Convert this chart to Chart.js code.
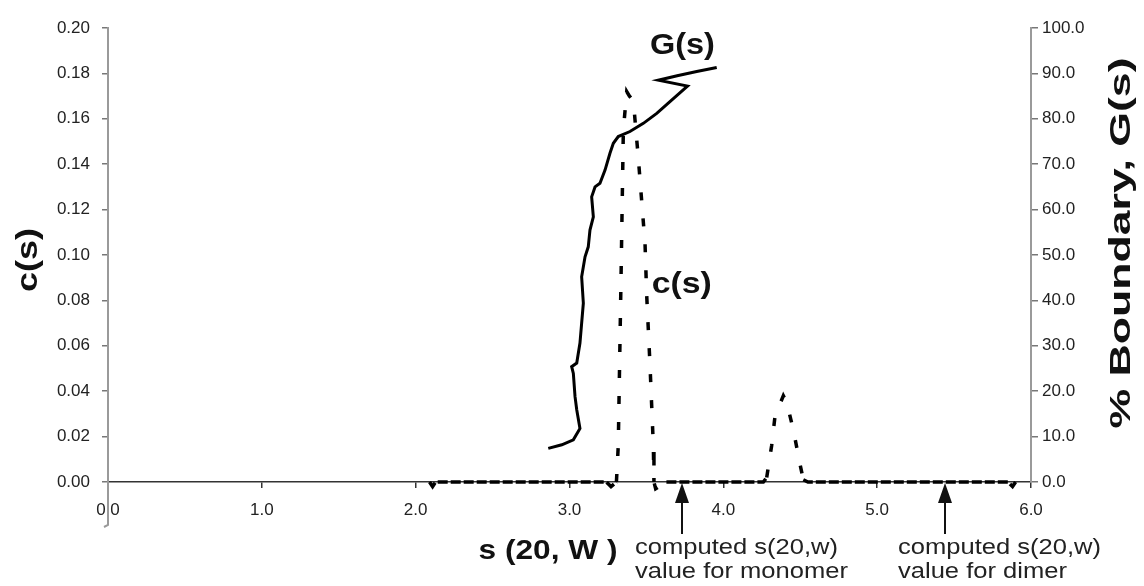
<!DOCTYPE html>
<html>
<head>
<meta charset="utf-8">
<script src="https://cdn.jsdelivr.net/npm/chart.js@4.4.1/dist/chart.umd.min.js"></script>
<style>
  html, body { margin: 0; padding: 0; background: #ffffff; }
  #wrap { width: 1144px; height: 586px; }
</style>
</head>
<body>
<div id="wrap"><canvas id="c" width="1144" height="586"></canvas></div>
<script>
// ---- data ----
// c(s) distribution (left axis)
const cS_s = [2.09, 2.11, 2.13, 3.24, 3.27, 3.305, 3.317, 3.335, 3.35, 3.372, 3.39, 3.415, 3.447, 3.491, 3.502, 3.523, 3.545, 3.549, 3.56, 3.63, 4.26, 4.282, 4.314, 4.336, 4.39, 4.412, 4.455, 4.498, 4.52, 4.55, 5.85, 5.88, 5.90];
const cS_c = [0.0, -0.002, 0.0, 0.0, -0.002, 0.0, 0.016, 0.09, 0.155, 0.172, 0.170, 0.168, 0.143, 0.105, 0.082, 0.052, 0.016, 0.0, -0.003, 0.0, 0.0, 0.002, 0.016, 0.029, 0.038, 0.035, 0.023, 0.008, 0.001, 0.0, 0.0, -0.002, 0.0];

// G(s) integral distribution (right axis, % boundary)
const gS_s = [2.862, 2.95, 3.025, 3.068, 3.047, 3.036, 3.025, 3.014, 3.047, 3.068, 3.079, 3.090, 3.079, 3.101, 3.122, 3.133, 3.155, 3.144, 3.166, 3.198, 3.231, 3.263, 3.285, 3.317, 3.393, 3.480, 3.567, 3.653, 3.767, 3.577, 3.70, 3.827, 3.957];
const gS_G = [7.4, 8.2, 9.3, 11.8, 15.9, 18.8, 23.9, 25.4, 26.2, 30.6, 35.0, 39.4, 45.2, 49.6, 51.8, 55.5, 58.4, 62.8, 65.0, 65.8, 68.7, 72.4, 74.6, 76.1, 77.2, 79.0, 81.2, 83.8, 87.2, 88.5, 89.5, 90.4, 91.3];

// computed s(20,w) markers
const markerS = [3.73, 5.44];
const markerLine1 = ["computed s(20,w)", "computed s(20,w)"];
const markerLine2 = ["value for monomer", "value for dimer"];

// axis ranges / tick steps
const xRange = [0, 6], xStep = 1;
const cRange = [0, 0.2], cStep = 0.02;
const gRange = [0, 100], gStep = 10;

// series labels placed on the plot (anchor in data units)
const seriesLabels = ["G(s)", "c(s)"];
const seriesLabelS = [3.734, 3.73];
const seriesLabelAxis = ["y1", "y"];
const seriesLabelVal = [96, 0.0868];

// axis titles
const xTitle = "s (20, W )";
const yTitle = "c(s)";
const y1Title = "% Boundary, G(s)";

// ---- build chart ----
const cPoints = cS_s.map((s, i) => ({ x: s, y: cS_c[i] }));
const gPoints = gS_s.map((s, i) => ({ x: s, y: gS_G[i] }));

function fitText(ctx, text, x, y, font, targetW, rot, align) {
  ctx.save();
  ctx.font = font;
  const w = ctx.measureText(text).width;
  ctx.translate(x, y);
  if (rot) ctx.rotate(rot);
  ctx.scale(targetW / w, 1);
  ctx.textAlign = align || 'center';
  ctx.textBaseline = 'middle';
  ctx.fillText(text, 0, 0);
  ctx.restore();
}

const decorPlugin = {
  id: 'decor',
  afterDraw(chart) {
    const ctx = chart.ctx;
    const xs = chart.scales.x, ys = chart.scales.y;
    const x0 = xs.getPixelForValue(0);
    const yb = ys.getPixelForValue(0);
    ctx.save();
    // y axis extension below the x axis
    ctx.strokeStyle = '#9a9a9a';
    ctx.lineWidth = 2;
    ctx.beginPath();
    ctx.moveTo(x0, yb);
    ctx.lineTo(x0, yb + 43);
    ctx.lineTo(x0 - 4, yb + 45);
    ctx.stroke();

    ctx.fillStyle = '#111';
    // axis titles
    fitText(ctx, yTitle, 29, 260, 'bold 30px "Liberation Sans", Arial, sans-serif', 64, -Math.PI / 2);
    fitText(ctx, y1Title, 1122, 243, 'bold 30px "Liberation Sans", Arial, sans-serif', 371, -Math.PI / 2);
    fitText(ctx, xTitle, 548, 552, 'bold 27px "Liberation Sans", Arial, sans-serif', 139, 0);

    // series labels
    seriesLabels.forEach((t, i) => {
      const px = xs.getPixelForValue(seriesLabelS[i]);
      const py = chart.scales[seriesLabelAxis[i]].getPixelForValue(seriesLabelVal[i]);
      fitText(ctx, t, px, py, 'bold 30px "Liberation Sans", Arial, sans-serif', i === 0 ? 65 : 60, 0);
    });

    // markers: arrows + text
    markerS.forEach((s, i) => {
      const px = Math.round(xs.getPixelForValue(s));
      ctx.strokeStyle = '#111';
      ctx.lineWidth = 2;
      ctx.beginPath();
      ctx.moveTo(px, yb + 52);
      ctx.lineTo(px, yb + 18);
      ctx.stroke();
      ctx.fillStyle = '#111';
      ctx.beginPath();
      ctx.moveTo(px, yb + 1);
      ctx.lineTo(px - 7, yb + 21);
      ctx.lineTo(px + 7, yb + 21);
      ctx.closePath();
      ctx.fill();

      ctx.fillStyle = '#222';
      const font = '22px "Liberation Sans", Arial, sans-serif';
      ctx.font = font;
      const w1 = ctx.measureText(markerLine1[i]).width;
      const k = 203 / w1;
      const left = px - 47;
      [markerLine1[i], markerLine2[i]].forEach((t, j) => {
        ctx.save();
        ctx.font = font;
        ctx.translate(left, yb + 66 + j * 24);
        ctx.scale(k, 1);
        ctx.textAlign = 'left';
        ctx.textBaseline = 'middle';
        ctx.fillText(t, 0, 0);
        ctx.restore();
      });
    });
    ctx.restore();
  }
};

const tickFont = { family: '"Liberation Sans", Arial, sans-serif', size: 17 };

new Chart(document.getElementById('c'), {
  type: 'scatter',
  data: {
    datasets: [
      {
        label: 'c(s)',
        data: cPoints,
        yAxisID: 'y',
        showLine: true,
        borderColor: '#000',
        borderWidth: 3.5,
        pointRadius: 0,
        clip: false,
        segment: {
          borderDash: (sc) => (Math.abs(sc.p0.parsed.y) < 0.0025 && Math.abs(sc.p1.parsed.y) < 0.0025) ? [10, 3] : [8, 18]
        }
      },
      {
        label: 'G(s)',
        data: gPoints,
        yAxisID: 'y1',
        showLine: true,
        borderColor: '#000',
        borderWidth: 3,
        pointRadius: 0,
        tension: 0
      }
    ]
  },
  options: {
    responsive: false,
    animation: false,
    devicePixelRatio: 1,
    layout: { padding: { top: 28, left: 0, right: 0, bottom: 0 } },
    plugins: { legend: { display: false }, tooltip: { enabled: false } },
    scales: {
      x: {
        type: 'linear',
        min: xRange[0], max: xRange[1],
        afterFit: (s) => { s.height = 104; },
        ticks: { stepSize: xStep, callback: (v) => Number(v).toFixed(1), font: tickFont, color: '#222', padding: 12, maxRotation: 0 },
        grid: { drawOnChartArea: false, drawTicks: true, tickLength: 6, color: '#333', lineWidth: 1.5 },
        border: { display: true, color: '#333', width: 1.5 }
      },
      y: {
        position: 'left',
        min: cRange[0], max: cRange[1],
        afterFit: (s) => { s.width = 108; },
        ticks: { stepSize: cStep, callback: (v) => Number(v).toFixed(2), font: tickFont, color: '#222', padding: 12 },
        grid: { drawOnChartArea: false, drawTicks: true, tickLength: 6, color: '#777', lineWidth: 1.5 },
        border: { display: true, color: '#9a9a9a', width: 2 }
      },
      y1: {
        position: 'right',
        min: gRange[0], max: gRange[1],
        afterFit: (s) => { s.width = 113; },
        ticks: { stepSize: gStep, callback: (v) => Number(v).toFixed(1), font: tickFont, color: '#222', padding: 4 },
        grid: { drawOnChartArea: false, drawTicks: true, tickLength: 7, color: '#777', lineWidth: 1.5 },
        border: { display: true, color: '#9a9a9a', width: 2 }
      }
    }
  },
  plugins: [decorPlugin]
});
</script>
</body>
</html>
